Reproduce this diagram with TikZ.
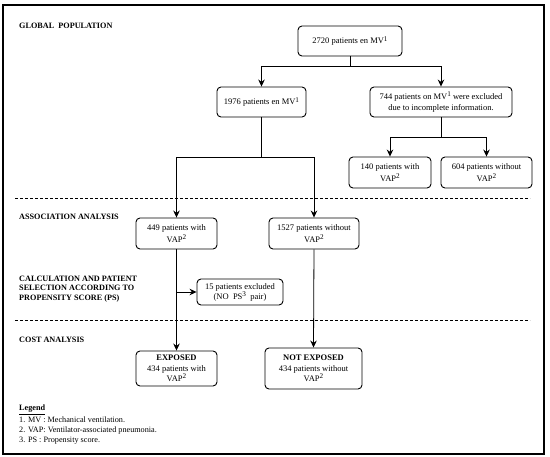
\documentclass[tikz,border=0pt]{standalone}
\usepackage{fontspec}
\setmainfont{Liberation Serif}
\usetikzlibrary{arrows.meta}
\newcommand{\sups}[1]{\raisebox{0.75ex}{\fontsize{7.2}{7.2}\selectfont #1}}
\tikzset{
  every node/.style={font=\fontsize{8.5}{11.5}\selectfont},
  box/.style={draw, rounded corners=4pt, line width=0.9pt, align=center, inner sep=1pt},
  conn/.style={line width=0.8pt},
  arr/.style={conn, -{Stealth[length=7pt,width=6.5pt]}},
  sep/.style={line width=0.8pt, dash pattern=on 3pt off 2pt},
  head/.style={anchor=west, align=left, font=\fontsize{8.2}{9.2}\selectfont\bfseries, inner sep=0pt},
}
\begin{document}
\begin{tikzpicture}[x=1pt, y=-1pt]
\useasboundingbox (0,0) rectangle (550,457);
\draw[line width=1.3pt] (3,5) rectangle (544,454);
% headings
\node[head] (hglob) at (19,26) {GLOBAL\ \ POPULATION};
\node[head] (hassoc) at (19,217) {ASSOCIATION ANALYSIS};
\node[head] (hcalc) at (19,289) {CALCULATION AND PATIENT\\SELECTION ACCORDING TO\\PROPENSITY SCORE (PS)};
\node[head] (hcost) at (19,340) {COST ANALYSIS};
% separators
\draw[sep] (15,198) -- (530,198);
\draw[sep] (15,320) -- (530,320);
% boxes
\node[box, minimum width=104pt, minimum height=30pt] (n2720) at (350,41) {2720 patients en MV\sups{1}};
\node[box, minimum width=89pt, minimum height=30pt] (n1976) at (261.5,102) {1976 patients en MV\sups{1}};
\node[box, minimum width=142pt, minimum height=30pt] (n744) at (441,102) {744 patients on MV\sups{1} were excluded\\due to incomplete information.};
\node[box, minimum width=82pt, minimum height=31pt] (n140) at (390,172.5) {140 patients with\\VAP\sups{2}};
\node[box, minimum width=91pt, minimum height=31pt] (n604) at (486.5,172.5) {604 patients without\\VAP\sups{2}};
\node[box, minimum width=81pt, minimum height=31pt] (n449) at (176.5,233.5) {449 patients with\\VAP\sups{2}};
\node[box, minimum width=90pt, minimum height=31pt] (n1527) at (314,233.5) {1527 patients without\\VAP\sups{2}};
\node[box, minimum width=86pt, minimum height=26pt, font=\fontsize{8.5}{10}\selectfont] (n15) at (240,292) {15 patients excluded\\(NO\ \ PS\sups{3}\ \ pair)};
\node[box, minimum width=81pt, minimum height=35pt, font=\fontsize{8.5}{10.5}\selectfont] (nexp) at (176.5,368.5) {\textbf{EXPOSED}\\434 patients with\\VAP\sups{2}};
\node[box, minimum width=97pt, minimum height=41pt, font=\fontsize{8.5}{10.5}\selectfont] (nnot) at (313.5,368.5) {\textbf{NOT EXPOSED}\\434 patients without\\VAP\sups{2}};
% junctions
\coordinate (j1) at (350,66);
\coordinate (j2) at (441,137);
\coordinate (j3) at (261.5,157);
\coordinate (j4) at (176.5,292);
% connectors
\draw[conn] (n2720.south) -- (j1);
\draw[arr] (j1) -| (n1976.north);
\draw[arr] (j1) -| (n744.north);
\draw[conn] (n744.south) -- (j2);
\draw[arr] (j2) -| (n140.north);
\draw[arr] (j2) -| (n604.north);
\draw[conn] (n1976.south) -- (j3);
\draw[arr] (j3) -| (n449.north);
\draw[arr] (j3) -| (n1527.north);
\draw[arr] (n449.south) -- (nexp.north);
\draw[arr] (j4) -- (n15.west);
\draw[arr] (n1527.south) -- (nnot.north);
% legend
\node[anchor=north west, align=left, inner sep=0pt, font=\fontsize{8.2}{10}\selectfont] (legend) at (19,405)
  {\textbf{\underline{Legend}}\\[1.5pt]1. MV : Mechanical ventilation.\\2. VAP: Ventilator-associated pneumonia.\\3. PS : Propensity score.};
\end{tikzpicture}
\end{document}
